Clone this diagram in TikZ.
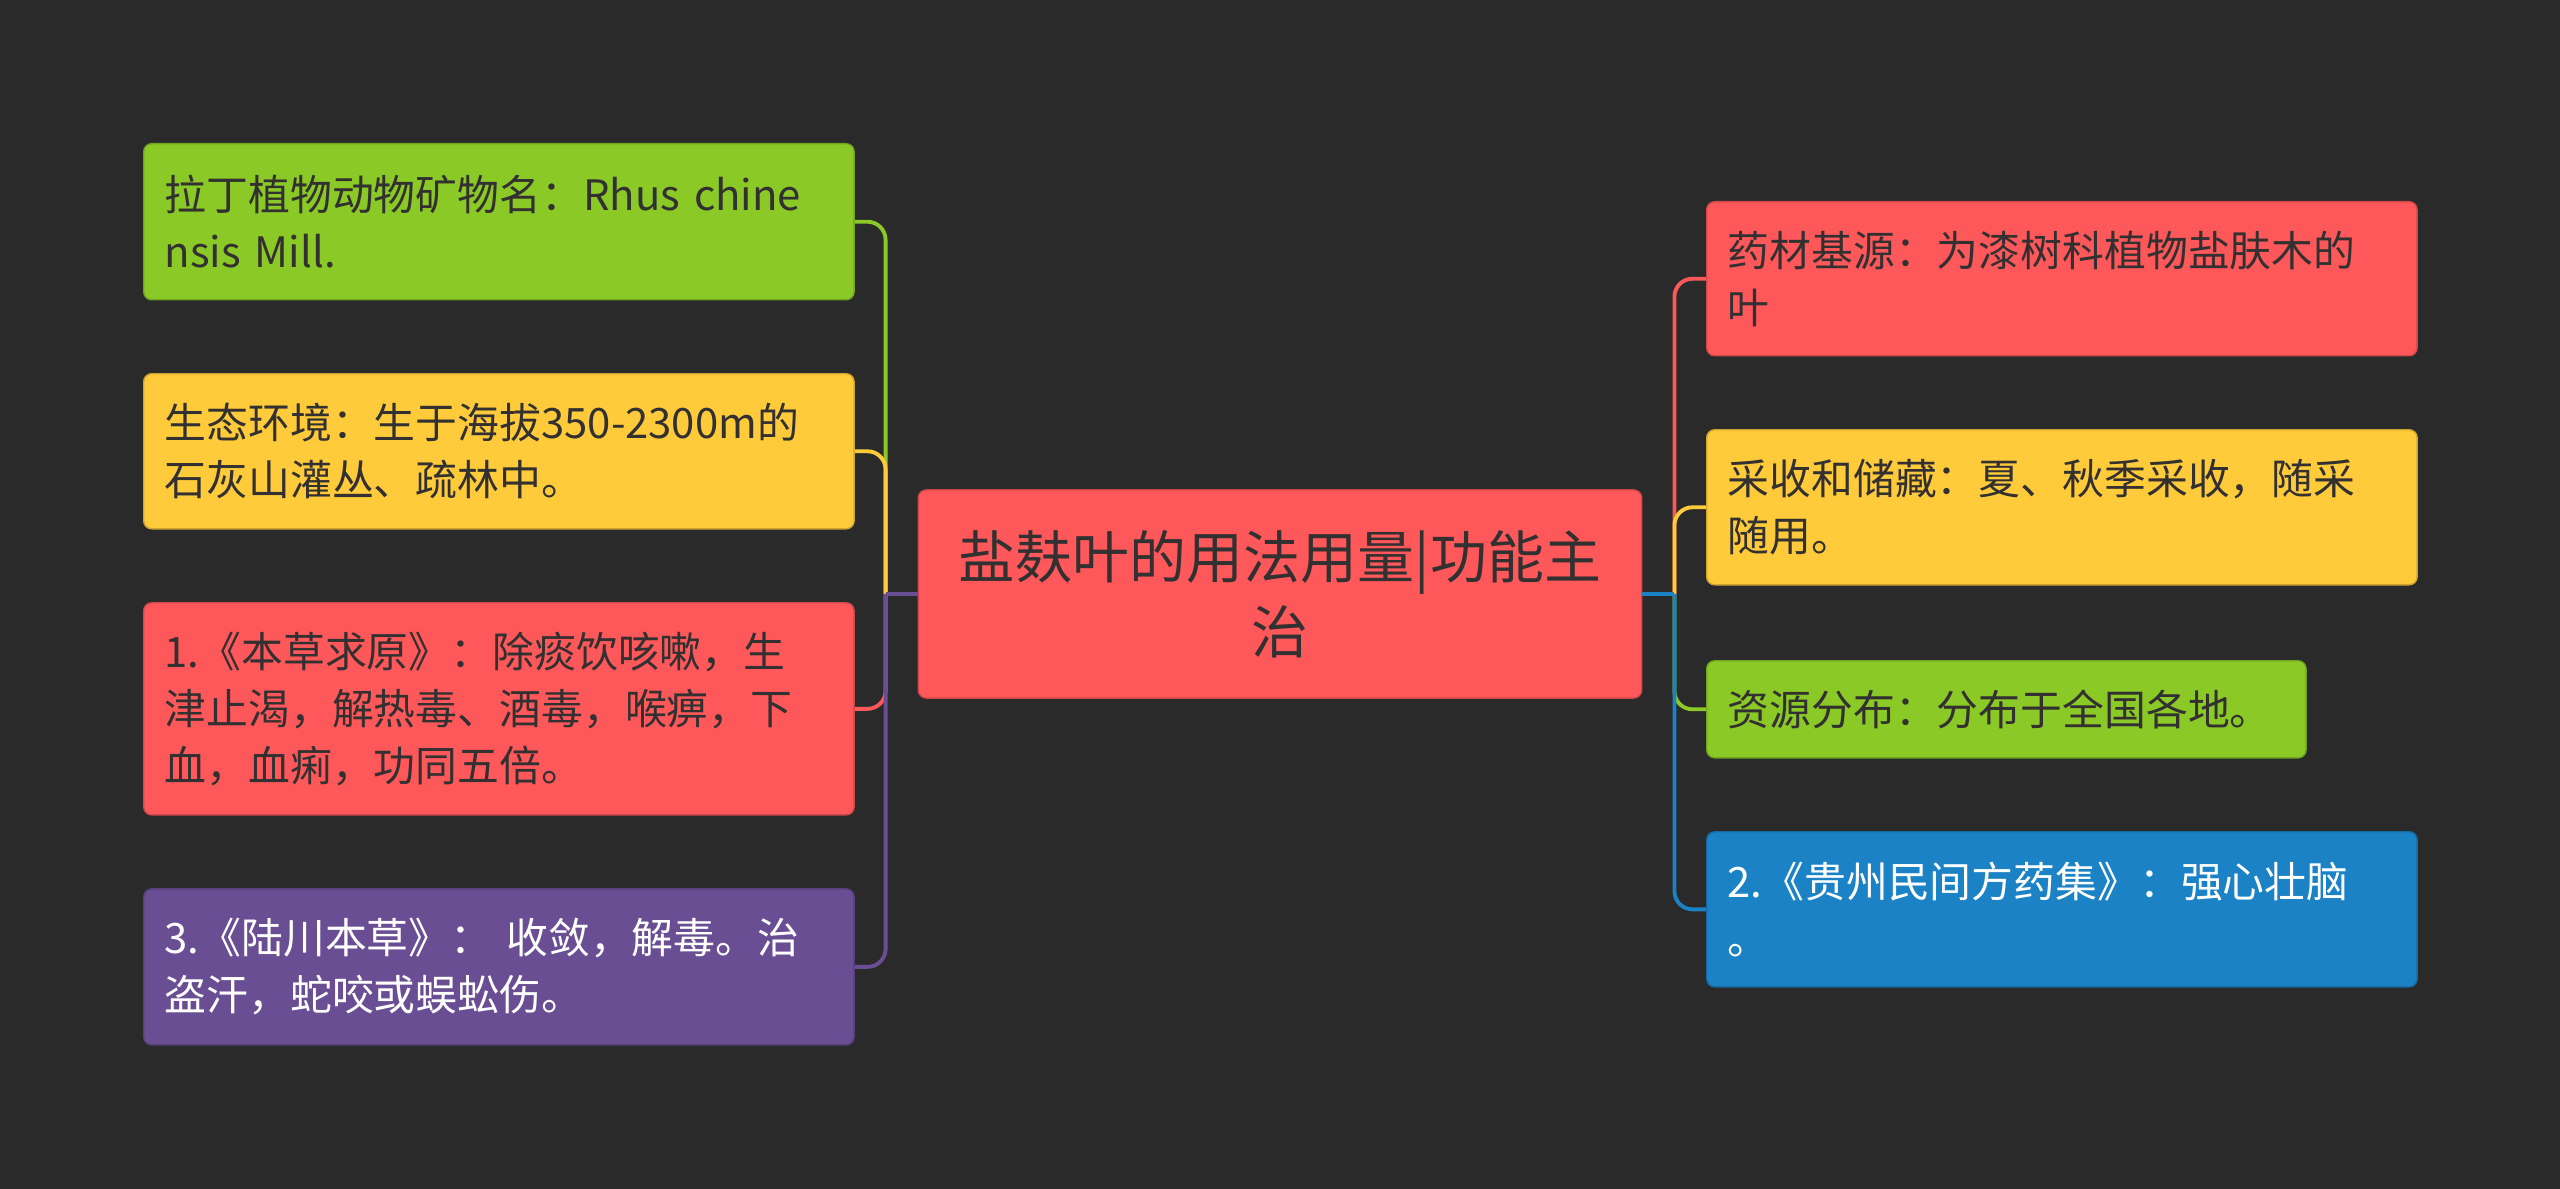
\documentclass[tikz,border=0pt]{standalone}
\usepackage{fontspec}
\setmainfont{Noto Sans CJK SC}
\usepackage{xcolor}
\usepackage{tikz}
\usetikzlibrary{positioning}
\definecolor{bgdark}{RGB}{42,42,42}
\definecolor{inkdark}{RGB}{50,48,48}
\definecolor{mmgreen}{RGB}{139,201,38}
\definecolor{mmyellow}{RGB}{255,203,58}
\definecolor{mmred}{RGB}{255,88,90}
\definecolor{mmpurple}{RGB}{106,78,148}
\definecolor{mmblue}{RGB}{27,130,198}
\tikzset{
  topic/.style={fill=#1, draw=#1!82!black, line width=0.4pt, rounded corners=0.08cm,
                inner xsep=0.21cm, inner ysep=0pt, text width=6.68cm, align=left,
                anchor=north west, text=inkdark, font=\fontsize{11.9pt}{16.2pt}\selectfont},
  darktopic/.style={topic=#1, text=white},
  root/.style={fill=mmred, draw=mmred!82!black, line width=0.4pt, rounded corners=0.08cm,
               minimum width=7.23cm, minimum height=2.08cm, align=center, inner sep=0pt,
               text=inkdark, font=\fontsize{16.2pt}{21.3pt}\selectfont},
  branch/.style={draw=#1, line width=1.1pt, rounded corners=0.18cm}
}

\begin{document}
\begin{tikzpicture}[x=0.01cm, y=-0.01cm]
\fill[bgdark] (0,0) rectangle (2560,1189);
\node[root] (c) at (1280,594) {盐麸叶的用法用量|功能主\\治};
\node[topic=mmgreen, minimum height=1.56cm] (l1) at (143,143) {拉丁植物动物矿物名：Rhus chine\\nsis Mill.};
\node[topic=mmyellow, minimum height=1.55cm, below=0.725cm of l1.south west, anchor=north west] (l2) {生态环境：生于海拔350-2300m的\\石灰山灌丛、疏林中。};
\node[topic=mmred, minimum height=2.12cm, below=0.725cm of l2.south west, anchor=north west] (l3) {1.《本草求原》：除痰饮咳嗽，生\\津止渴，解热毒、酒毒，喉痹，下\\血，血痢，功同五倍。};
\node[darktopic=mmpurple, minimum height=1.56cm, below=0.725cm of l3.south west, anchor=north west] (l4) {3.《陆川本草》： 收敛，解毒。治\\盗汗，蛇咬或蜈蚣伤。};
\node[topic=mmred, minimum height=1.54cm] (r1) at (1706,201) {药材基源：为漆树科植物盐肤木的\\叶};
\node[topic=mmyellow, minimum height=1.55cm, below=0.725cm of r1.south west, anchor=north west] (r2) {采收和储藏：夏、秋季采收，随采\\随用。};
\node[topic=mmgreen, minimum height=0.97cm, text width=5.57cm, below=0.745cm of r2.south west, anchor=north west] (r3) {资源分布：分布于全国各地。};
\node[darktopic=mmblue, minimum height=1.55cm, below=0.725cm of r3.south west, anchor=north west] (r4) {2.《贵州民间方药集》：强心壮脑\\。};
\coordinate[left=0.32cm of c.west] (lj);
\coordinate[right=0.32cm of c.east] (rj);
\draw[branch=mmgreen] (lj) |- (l1.east);
\draw[branch=mmyellow] (lj) |- (l2.east);
\draw[branch=mmred] (lj) |- (l3.east);
\draw[branch=mmpurple] (lj) |- (l4.east);
\draw[branch=mmpurple] (c.west) -- (lj);
\draw[branch=mmred] (rj) |- (r1.west);
\draw[branch=mmyellow] (rj) |- (r2.west);
\draw[branch=mmgreen] (rj) |- (r3.west);
\draw[branch=mmblue] (rj) |- (r4.west);
\draw[branch=mmblue] (c.east) -- (rj);
\end{tikzpicture}
\end{document}
